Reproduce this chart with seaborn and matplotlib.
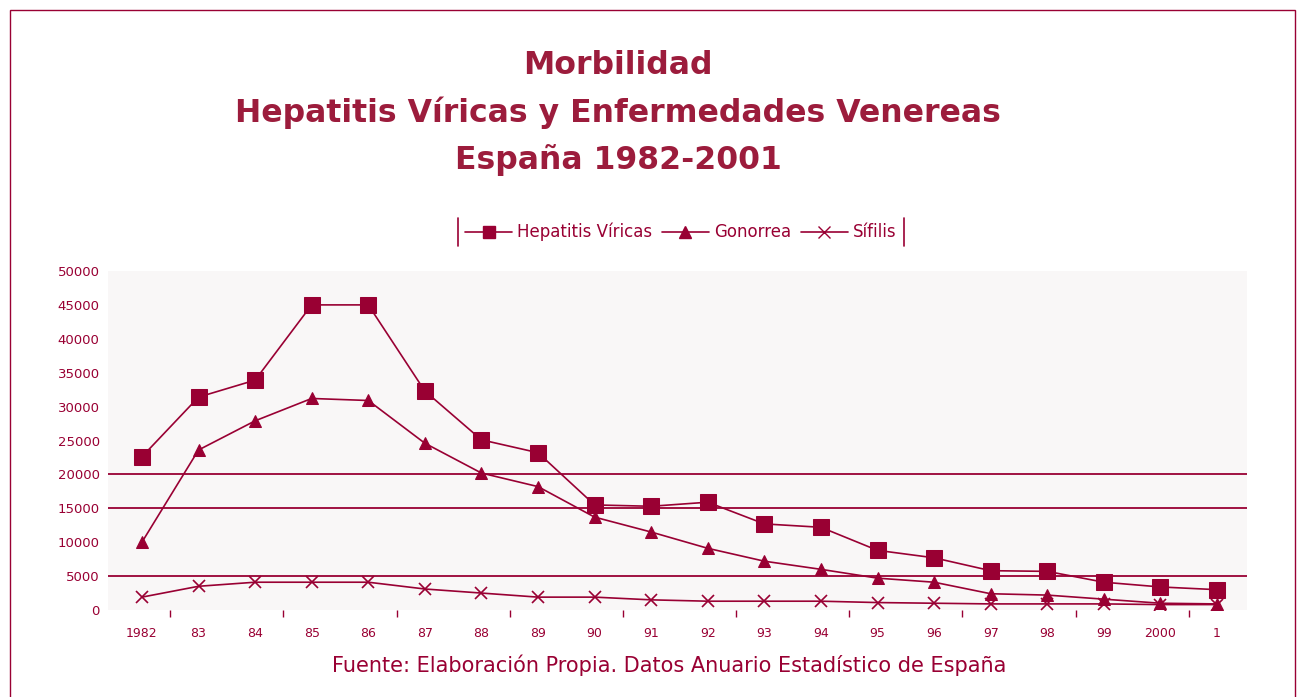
import pandas as pd
import matplotlib
matplotlib.use("Agg")
import matplotlib.pyplot as plt
import seaborn as sns
from matplotlib.lines import Line2D

# datos
anios = ["1982", "83", "84", "85", "86", "87", "88", "89", "90", "91",
         "92", "93", "94", "95", "96", "97", "98", "99", "2000", "1"]
hepatitis = [22600, 31400, 33900, 45000, 45000, 32300, 25100, 23200, 15500, 15300,
             15900, 12700, 12200, 8800, 7700, 5800, 5700, 4100, 3400, 3000]
gonorrea = [10000, 23600, 27900, 31200, 30900, 24600, 20200, 18200, 13700, 11500,
            9100, 7200, 6000, 4700, 4100, 2400, 2200, 1600, 1000, 900]
sifilis = [1900, 3500, 4100, 4100, 4100, 3100, 2500, 1900, 1900, 1500,
           1300, 1300, 1300, 1100, 1000, 900, 900, 900, 800, 800]
lineas_rejilla = [5000, 15000, 20000]

granate = "#990033"

df = pd.DataFrame({"pos": range(len(anios)), "Hepatitis Víricas": hepatitis,
                   "Gonorrea": gonorrea, "Sífilis": sifilis})

sns.set_style("white")
plt.rcParams["font.family"] = ["DejaVu Sans"]

fig = plt.figure(figsize=(13.04, 6.97), dpi=100)
ax = fig.add_axes([0.0828, 0.1248, 0.8735, 0.4864])
ax.set_facecolor("#f9f7f7")

for y in lineas_rejilla:
    ax.axhline(y, color=granate, lw=1.3, zorder=1)

sns.lineplot(data=df, x="pos", y="Hepatitis Víricas", ax=ax, color=granate, lw=1.2,
             marker="s", markersize=11, markeredgecolor=granate, zorder=3)
sns.lineplot(data=df, x="pos", y="Gonorrea", ax=ax, color=granate, lw=1.2,
             marker="^", markersize=8, markeredgecolor=granate, zorder=3)
sns.lineplot(data=df, x="pos", y="Sífilis", ax=ax, color=granate, lw=1.2,
             marker="x", markersize=9, markeredgewidth=1.2, markeredgecolor=granate, zorder=3)

ax.set_xlim(-0.6, len(anios) - 0.47)
ax.set_ylim(0, 50000)
ax.set_xticks(range(len(anios)))
ax.set_xticklabels(anios)
ax.set_xticks([i + 0.5 for i in range(0, len(anios) - 1, 2)], minor=True)
ax.set_yticks(range(0, 50001, 5000))
ax.tick_params(axis="x", which="major", length=0, pad=12, labelsize=9, labelcolor=granate)
ax.tick_params(axis="x", which="minor", bottom=True, length=5, width=1,
               color=granate, direction="out")
ax.tick_params(axis="y", length=0, pad=6, labelsize=9.5, labelcolor=granate)
ax.set_xlabel("")
ax.set_ylabel("")
for s in ax.spines.values():
    s.set_visible(False)

fig.text(0.474, 0.838, "Morbilidad\nHepatitis Víricas y Enfermedades Venereas\nEspaña 1982-2001",
         ha="center", va="center", fontsize=22.7, fontweight="bold", color="#9c1c3c",
         linespacing=1.62)

handles = [
    Line2D([], [], color=granate, marker="s", markersize=9, lw=1.2),
    Line2D([], [], color=granate, marker="^", markersize=8, lw=1.2),
    Line2D([], [], color=granate, marker="x", markersize=8, lw=1.2),
]
leg = fig.legend(handles, ["Hepatitis Víricas", "Gonorrea", "Sífilis"], loc="center",
                 bbox_to_anchor=(0.522, 0.667), ncol=3, frameon=False, fontsize=12,
                 handlelength=2.8, handletextpad=0.3, columnspacing=0.6)
for t in leg.get_texts():
    t.set_color(granate)
for xl in (0.351, 0.693):
    fig.add_artist(Line2D([xl, xl], [0.647, 0.687], color=granate, lw=1.2))

fig.text(0.513, 0.045, "Fuente: Elaboración Propia. Datos Anuario Estadístico de España",
         ha="center", va="center", fontsize=15, color=granate)

# marco exterior
fig.add_artist(plt.Rectangle((0.008, -0.01), 0.985, 0.995, transform=fig.transFigure,
                             fill=False, edgecolor=granate, lw=1.0))

fig.savefig("out.png", dpi=100)
